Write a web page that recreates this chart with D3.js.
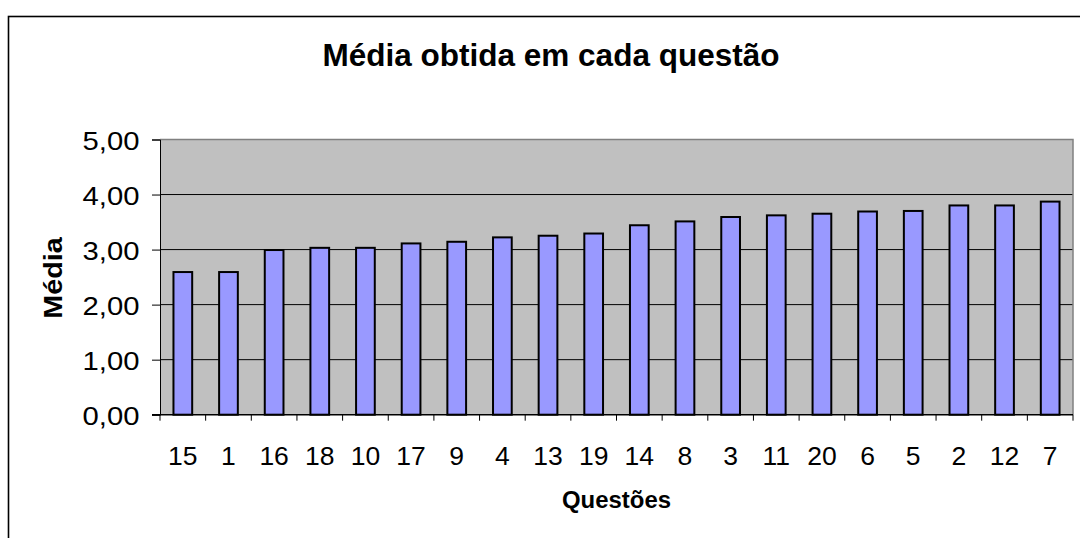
<!DOCTYPE html>
<html>
<head>
<meta charset="utf-8">
<script src="https://cdn.jsdelivr.net/npm/d3@7"></script>
<style>
body { margin: 0; background: #fff; }
text { font-family: Arial, "Liberation Sans", sans-serif; fill: #000; }
</style>
</head>
<body>
<svg></svg>
<script>
// Questions, ordered by their mean
const questoes = ["15", "1", "16", "18", "10", "17", "9", "4", "13", "19", "14", "8", "3", "11", "20", "6", "5", "2", "12", "7"];
// Mean score for each question
const medias = [2.61, 2.61, 3.01, 3.05, 3.05, 3.13, 3.16, 3.24, 3.27, 3.31, 3.46, 3.53, 3.61, 3.64, 3.67, 3.71, 3.72, 3.82, 3.82, 3.89];
// Value axis ticks
const yTicks = [0, 1, 2, 3, 4, 5];

const width = 1080;
const height = 538;
const plot = {left: 160, right: 1073, top: 139.5, bottom: 414.7};

const svg = d3.select("svg")
    .attr("width", width)
    .attr("height", height);

// chart area border (runs off the right and bottom edges)
svg.append("rect")
    .attr("x", 8.5).attr("y", 16.5)
    .attr("width", 1100).attr("height", 600)
    .attr("fill", "#fff")
    .attr("stroke", "#000")
    .attr("stroke-width", 1.6);

const x = d3.scaleBand()
    .domain(questoes)
    .range([plot.left, plot.right])
    .padding(0);

const y = d3.scaleLinear()
    .domain([0, 5])
    .range([plot.bottom, plot.top]);

// plot area
svg.append("rect")
    .attr("x", plot.left).attr("y", plot.top)
    .attr("width", plot.right - plot.left)
    .attr("height", plot.bottom - plot.top)
    .attr("fill", "#c0c0c0");

// gridlines
svg.append("g")
    .selectAll("line")
    .data(yTicks.filter(d => d > 0 && d < 5))
    .join("line")
    .attr("x1", plot.left).attr("x2", plot.right)
    .attr("y1", d => y(d)).attr("y2", d => y(d))
    .attr("stroke", "#000")
    .attr("stroke-width", 1);

// gray top / right border of plot
svg.append("path")
    .attr("d", `M${plot.left},${y(5)}H${plot.right}V${plot.bottom}`)
    .attr("fill", "none")
    .attr("stroke", "#808080")
    .attr("stroke-width", 1.5);

// bars
const barW = x.bandwidth() * 0.41;
svg.append("g")
    .selectAll("rect")
    .data(questoes)
    .join("rect")
    .attr("x", d => x(d) + (x.bandwidth() - barW) / 2)
    .attr("y", (d, i) => y(medias[i]) + 1)
    .attr("width", barW)
    .attr("height", (d, i) => y(0) - y(medias[i]) - 1)
    .attr("fill", "#9999ff")
    .attr("stroke", "#000")
    .attr("stroke-width", 2);

// y axis
const yAxis = svg.append("g")
    .attr("transform", `translate(${plot.left},0)`)
    .call(d3.axisLeft(y).tickValues(yTicks).tickSize(8).tickPadding(0).tickFormat(d => d3.format(".2f")(d).replace(".", ",")));
yAxis.select(".domain").attr("stroke", "#000").attr("stroke-width", 1);
yAxis.selectAll(".tick line").attr("stroke", "#000");
yAxis.selectAll(".tick text")
    .attr("x", 0).attr("dy", null).attr("y", 0)
    .attr("font-size", 25)
    .attr("text-anchor", "end")
    .attr("dominant-baseline", "central")
    .attr("transform", "translate(-20.5,1) scale(1.17,1)");

// x axis: ticks at category boundaries
const xAxis = svg.append("g")
    .attr("transform", `translate(0,${plot.bottom})`);
xAxis.append("line")
    .attr("x1", plot.left - 8).attr("x2", plot.right)
    .attr("stroke", "#000").attr("stroke-width", 1.5);
xAxis.selectAll(".tk")
    .data(questoes.map(d => x(d)).concat([plot.right]))
    .join("line")
    .attr("class", "tk")
    .attr("x1", d => d).attr("x2", d => d)
    .attr("y1", 0).attr("y2", 6)
    .attr("stroke", "#000");
xAxis.selectAll("text")
    .data(questoes)
    .join("text")
    .attr("x", d => x(d) + x.bandwidth() / 2)
    .attr("y", 50.5)
    .attr("text-anchor", "middle")
    .attr("font-size", 26.5)
    .text(d => d);

// title
svg.append("text")
    .attr("x", 551).attr("y", 65.5)
    .attr("text-anchor", "middle")
    .attr("font-size", 31.5)
    .attr("font-weight", "bold")
    .text("Média obtida em cada questão");

// axis titles
svg.append("text")
    .attr("transform", `translate(${(plot.left + plot.right) / 2},507.5) scale(1.04,1)`)
    .attr("text-anchor", "middle")
    .attr("font-size", 23)
    .attr("font-weight", "bold")
    .text("Questões");

svg.append("text")
    .attr("transform", "translate(62,278) rotate(-90) scale(1.15,1)")
    .attr("text-anchor", "middle")
    .attr("font-size", 25)
    .attr("font-weight", "bold")
    .text("Média");
</script>
</body>
</html>
